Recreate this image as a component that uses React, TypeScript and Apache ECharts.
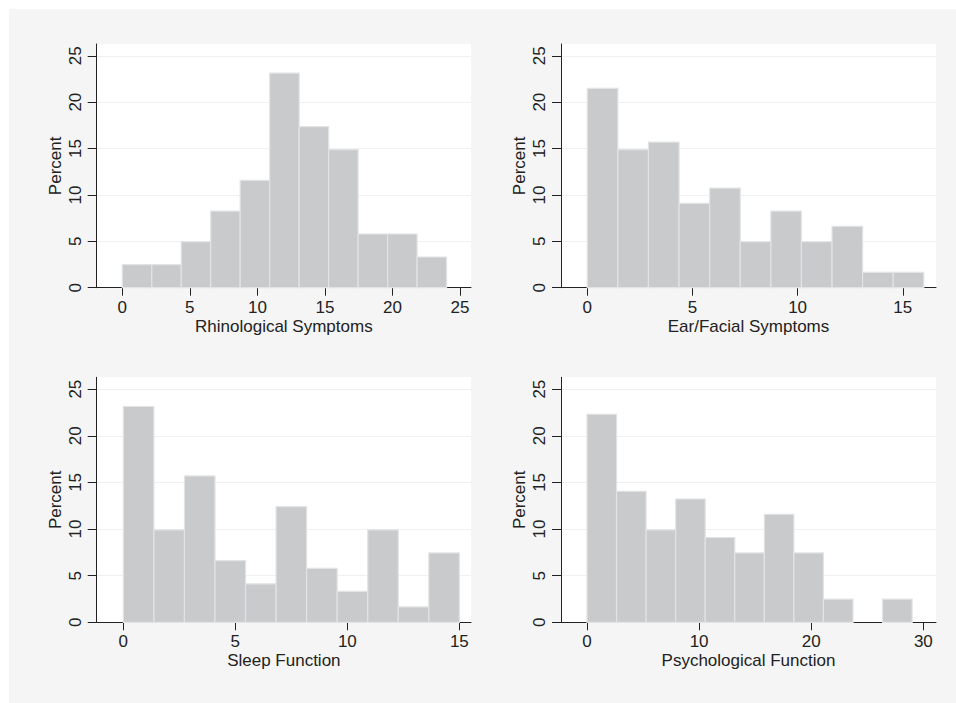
import React, { useEffect, useRef } from "react";
import * as echarts from "echarts";

// Histogram data (percent per bin), 11 equal-width bins over each range
const rhinoPercent = [2.48, 2.48, 4.96, 8.26, 11.57, 23.14, 17.36, 14.88, 5.79, 5.79, 3.31];
const rhinoRange = [0, 24];
const earPercent = [21.49, 14.88, 15.7, 9.09, 10.74, 4.96, 8.26, 4.96, 6.61, 1.65, 1.65];
const earRange = [0, 16];
const sleepPercent = [23.14, 9.92, 15.7, 6.61, 4.13, 12.4, 5.79, 3.31, 9.92, 1.65, 7.44];
const sleepRange = [0, 15];
const psychPercent = [22.31, 14.05, 9.92, 13.22, 9.09, 7.44, 11.57, 7.44, 2.48, 0, 2.48];
const psychRange = [0, 29];

const titles = ["Rhinological Symptoms", "Ear/Facial Symptoms", "Sleep Function", "Psychological Function"];
const yTicks = [0, 5, 10, 15, 20, 25];
const xTicks = [
  [0, 5, 10, 15, 20, 25],
  [0, 5, 10, 15],
  [0, 5, 10, 15],
  [0, 10, 20, 30],
];
const xExtents = [
  [-1.895, 25.81],
  [-1.25, 16.58],
  [-1.19, 15.52],
  [-2.32, 31.13],
];

function toBins(values: number[], range: number[]) {
  const w = (range[1] - range[0]) / values.length;
  return values.map((v, i) => [range[0] + i * w, range[0] + (i + 1) * w, v]);
}

const FONT = "Liberation Sans, Arial, Helvetica, sans-serif";
const TEXT = "#222222";
const FS = 17;

export default function App() {
  const ref = useRef<HTMLDivElement>(null);
  useEffect(() => {
    if (!ref.current) return;
    const chart = echarts.init(ref.current, undefined, { renderer: "svg" });
    const grids = [
      { left: 96.7, top: 44, width: 374.3, height: 243.7 },
      { left: 561, top: 44, width: 375, height: 243.7 },
      { left: 96.7, top: 377.3, width: 374.3, height: 245 },
      { left: 561, top: 377.3, width: 375, height: 245 },
    ];
    const datasets = [
      toBins(rhinoPercent, rhinoRange),
      toBins(earPercent, earRange),
      toBins(sleepPercent, sleepRange),
      toBins(psychPercent, psychRange),
    ];
    const option: any = {
      animation: false,
      backgroundColor: "#ffffff",
      textStyle: { fontFamily: FONT },
      graphic: [
        {
          type: "rect",
          z: -100,
          shape: { x: 9, y: 9, width: 947, height: 694 },
          style: { fill: "#f5f5f5" },
        },
      ],
      grid: grids.map((g) => ({
        ...g,
        show: true,
        backgroundColor: "#ffffff",
        borderWidth: 0,
      })),
      xAxis: grids.map((_, i) => ({
        type: "value",
        gridIndex: i,
        min: xExtents[i][0],
        max: xExtents[i][1],
        name: titles[i],
        nameLocation: "middle",
        nameGap: 30,
        nameTextStyle: { fontSize: FS, color: TEXT, fontFamily: FONT },
        axisLine: { show: true, onZero: false, lineStyle: { color: "#222", width: 1 } },
        axisTick: { show: true, length: 8, customValues: xTicks[i], lineStyle: { color: "#222" } },
        axisLabel: { customValues: xTicks[i], fontSize: FS, color: TEXT, margin: 11, fontFamily: FONT },
        splitLine: { show: false },
      })),
      yAxis: grids.map((_, i) => ({
        type: "value",
        gridIndex: i,
        min: 0,
        max: 26.27,
        name: "Percent",
        nameLocation: "middle",
        nameGap: 33,
        nameTextStyle: { fontSize: FS, color: TEXT, fontFamily: FONT },
        axisLine: { show: true, onZero: false, lineStyle: { color: "#222", width: 1 } },
        axisTick: { show: true, length: 9, customValues: yTicks, lineStyle: { color: "#222" } },
        axisLabel: { customValues: yTicks, rotate: 90, fontSize: FS, color: TEXT, margin: 13, fontFamily: FONT },
        splitLine: { show: true, customValues: yTicks, lineStyle: { color: "#f0f0f0", width: 1 } },
      })),
      series: datasets.map((d, i) => ({
        type: "custom",
        xAxisIndex: i,
        yAxisIndex: i,
        data: d,
        encode: { x: [0, 1], y: 2 },
        renderItem: (params: any, api: any) => {
          const h = api.value(2);
          if (!h) return null;
          const p0 = api.coord([api.value(0), 0]);
          const p1 = api.coord([api.value(1), h]);
          return {
            type: "rect",
            shape: { x: p0[0], y: p1[1], width: p1[0] - p0[0], height: p0[1] - p1[1] },
            style: { fill: "#c9cacc", stroke: "#e2e3e4", lineWidth: 1.2 },
          };
        },
      })),
    };
    chart.setOption(option);
    return () => chart.dispose();
  }, []);
  return (
    <div
      ref={ref}
      style={{ position: "absolute", left: 0, top: 0, width: 956, height: 703 }}
    />
  );
}
